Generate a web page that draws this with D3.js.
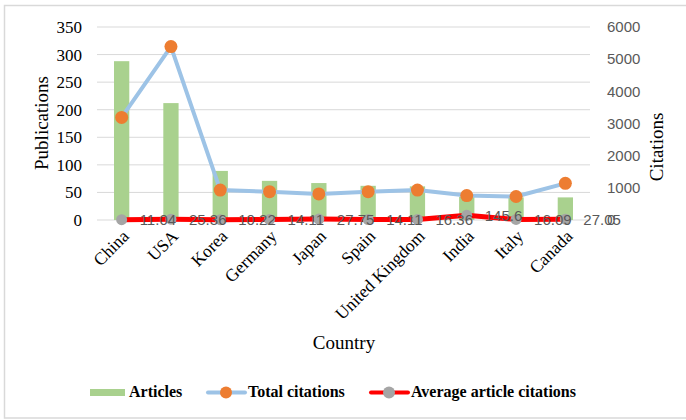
<!DOCTYPE html>
<html>
<head>
<meta charset="utf-8">
<script src="https://cdn.jsdelivr.net/npm/d3@7"></script>
<style>
  html, body { margin: 0; padding: 0; background: #fff; }
  svg { display: block; }
</style>
</head>
<body>
<svg id="chart" width="686" height="420"></svg>
<script>
const countries = ["China", "USA", "Korea", "Germany", "Japan", "Spain", "United Kingdom", "India", "Italy", "Canada"];
const articles = [288, 212, 89, 71, 67, 62, 61, 42, 41, 41];
const totalCitations = [3190, 5390, 930, 880, 810, 880, 930, 760, 730, 1140];
const avgCitations = [11.04, 25.36, 10.22, 14.11, 27.75, 14.11, 16.36, 145.6, 16.09, 27.05];
const leftTicks = [0, 50, 100, 150, 200, 250, 300, 350];
const rightTicks = [0, 1000, 2000, 3000, 4000, 5000, 6000];

const svg = d3.select("#chart");
const W = 686, H = 420;
const plot = { left: 97, right: 590, top: 27, bottom: 220 };

const serif = "'Liberation Serif', 'Times New Roman', serif";
const sans = "'Liberation Sans', Arial, sans-serif";

// border
svg.append("rect")
  .attr("x", 4.5).attr("y", 5.5)
  .attr("width", W + 10).attr("height", 412.5)
  .attr("fill", "none").attr("stroke", "#d9d9d9").attr("stroke-width", 1.5);

const x = d3.scaleBand().domain(countries).range([plot.left, plot.right]);
const yL = d3.scaleLinear().domain([0, 350]).range([plot.bottom, plot.top]);
const yR = d3.scaleLinear().domain([0, 6000]).range([plot.bottom, plot.top]);
const cx = c => x(c) + x.bandwidth() / 2;
const barW = x.bandwidth() * 0.31;

// gridlines
svg.append("g").selectAll("line").data(leftTicks).join("line")
  .attr("x1", plot.left).attr("x2", plot.right)
  .attr("y1", d => yL(d)).attr("y2", d => yL(d))
  .attr("stroke", "#d9d9d9").attr("stroke-width", 1);

// left axis
const axL = d3.axisLeft(yL).tickValues(leftTicks).tickSize(0).tickPadding(0).tickFormat(d3.format("d"));
const gL = svg.append("g").attr("transform", `translate(${plot.left - 15},0)`).call(axL);
gL.select(".domain").remove();
gL.selectAll("text").attr("font-family", serif).attr("font-size", 17).attr("fill", "#000");

// right axis
const axR = d3.axisRight(yR).tickValues(rightTicks).tickSize(0).tickPadding(0).tickFormat(d3.format("d"));
const gR = svg.append("g").attr("transform", `translate(607,0)`).call(axR);
gR.select(".domain").remove();
gR.selectAll("text").attr("font-family", sans).attr("font-size", 15).attr("fill", "#595959");

// bars
svg.append("g").selectAll("rect").data(countries).join("rect")
  .attr("x", (d) => cx(d) - barW / 2)
  .attr("width", barW)
  .attr("y", (d, i) => yL(articles[i]))
  .attr("height", (d, i) => yL(0) - yL(articles[i]))
  .attr("fill", "#a9d18e");

// total citations line
const lineT = d3.line().x((d, i) => cx(countries[i])).y(d => yR(d));
svg.append("path").datum(totalCitations)
  .attr("d", lineT).attr("fill", "none")
  .attr("stroke", "#9dc3e6").attr("stroke-width", 4).attr("stroke-linejoin", "round");
svg.append("g").selectAll("circle").data(totalCitations).join("circle")
  .attr("cx", (d, i) => cx(countries[i])).attr("cy", d => yR(d)).attr("r", 6.5)
  .attr("fill", "#ed7d31");

// average citations line
svg.append("path").datum(avgCitations)
  .attr("d", lineT).attr("fill", "none")
  .attr("stroke", "#ff0000").attr("stroke-width", 5).attr("stroke-linejoin", "round");
svg.append("g").selectAll("circle").data(avgCitations).join("circle")
  .attr("cx", (d, i) => cx(countries[i])).attr("cy", d => yR(d)).attr("r", 5.5)
  .attr("fill", "#a5a5a5");

// data labels
svg.append("g").selectAll("text").data(avgCitations).join("text")
  .attr("x", (d, i) => cx(countries[i]) + 18)
  .attr("y", d => yR(d))
  .attr("dy", "0.36em")
  .attr("font-family", sans).attr("font-size", 15).attr("fill", "#595959")
  .text(d => d);

// category labels
svg.append("g").selectAll("text").data(countries).join("text")
  .attr("transform", d => `translate(${cx(d) + 4},233) rotate(-45)`)
  .attr("text-anchor", "end").attr("dy", "0.35em")
  .attr("font-family", serif).attr("font-size", 17.5).attr("fill", "#000")
  .text(d => d);

// axis titles
svg.append("text").attr("transform", "translate(48,123) rotate(-90)")
  .attr("text-anchor", "middle").attr("font-family", serif).attr("font-size", 19)
  .text("Publications");
svg.append("text").attr("transform", "translate(663,147) rotate(-90)")
  .attr("text-anchor", "middle").attr("font-family", serif).attr("font-size", 19)
  .text("Citations");
svg.append("text").attr("x", 344).attr("y", 349)
  .attr("text-anchor", "middle").attr("font-family", serif).attr("font-size", 19)
  .text("Country");

// legend
const lg = svg.append("g").attr("font-family", serif).attr("font-size", 16).attr("font-weight", "bold");
lg.append("rect").attr("x", 90).attr("y", 389).attr("width", 35).attr("height", 7).attr("fill", "#a9d18e");
lg.append("text").attr("x", 129).attr("y", 397).text("Articles");
lg.append("line").attr("x1", 208).attr("x2", 245).attr("y1", 392.5).attr("y2", 392.5)
  .attr("stroke", "#9dc3e6").attr("stroke-width", 4).attr("stroke-linecap", "round");
lg.append("circle").attr("cx", 226).attr("cy", 392.5).attr("r", 6).attr("fill", "#ed7d31");
lg.append("text").attr("x", 248).attr("y", 397).text("Total citations");
lg.append("line").attr("x1", 371).attr("x2", 408).attr("y1", 392.5).attr("y2", 392.5)
  .attr("stroke", "#ff0000").attr("stroke-width", 4).attr("stroke-linecap", "round");
lg.append("circle").attr("cx", 389).attr("cy", 392.5).attr("r", 6).attr("fill", "#a5a5a5");
lg.append("text").attr("x", 411).attr("y", 397).text("Average article citations");
</script>
</body>
</html>
